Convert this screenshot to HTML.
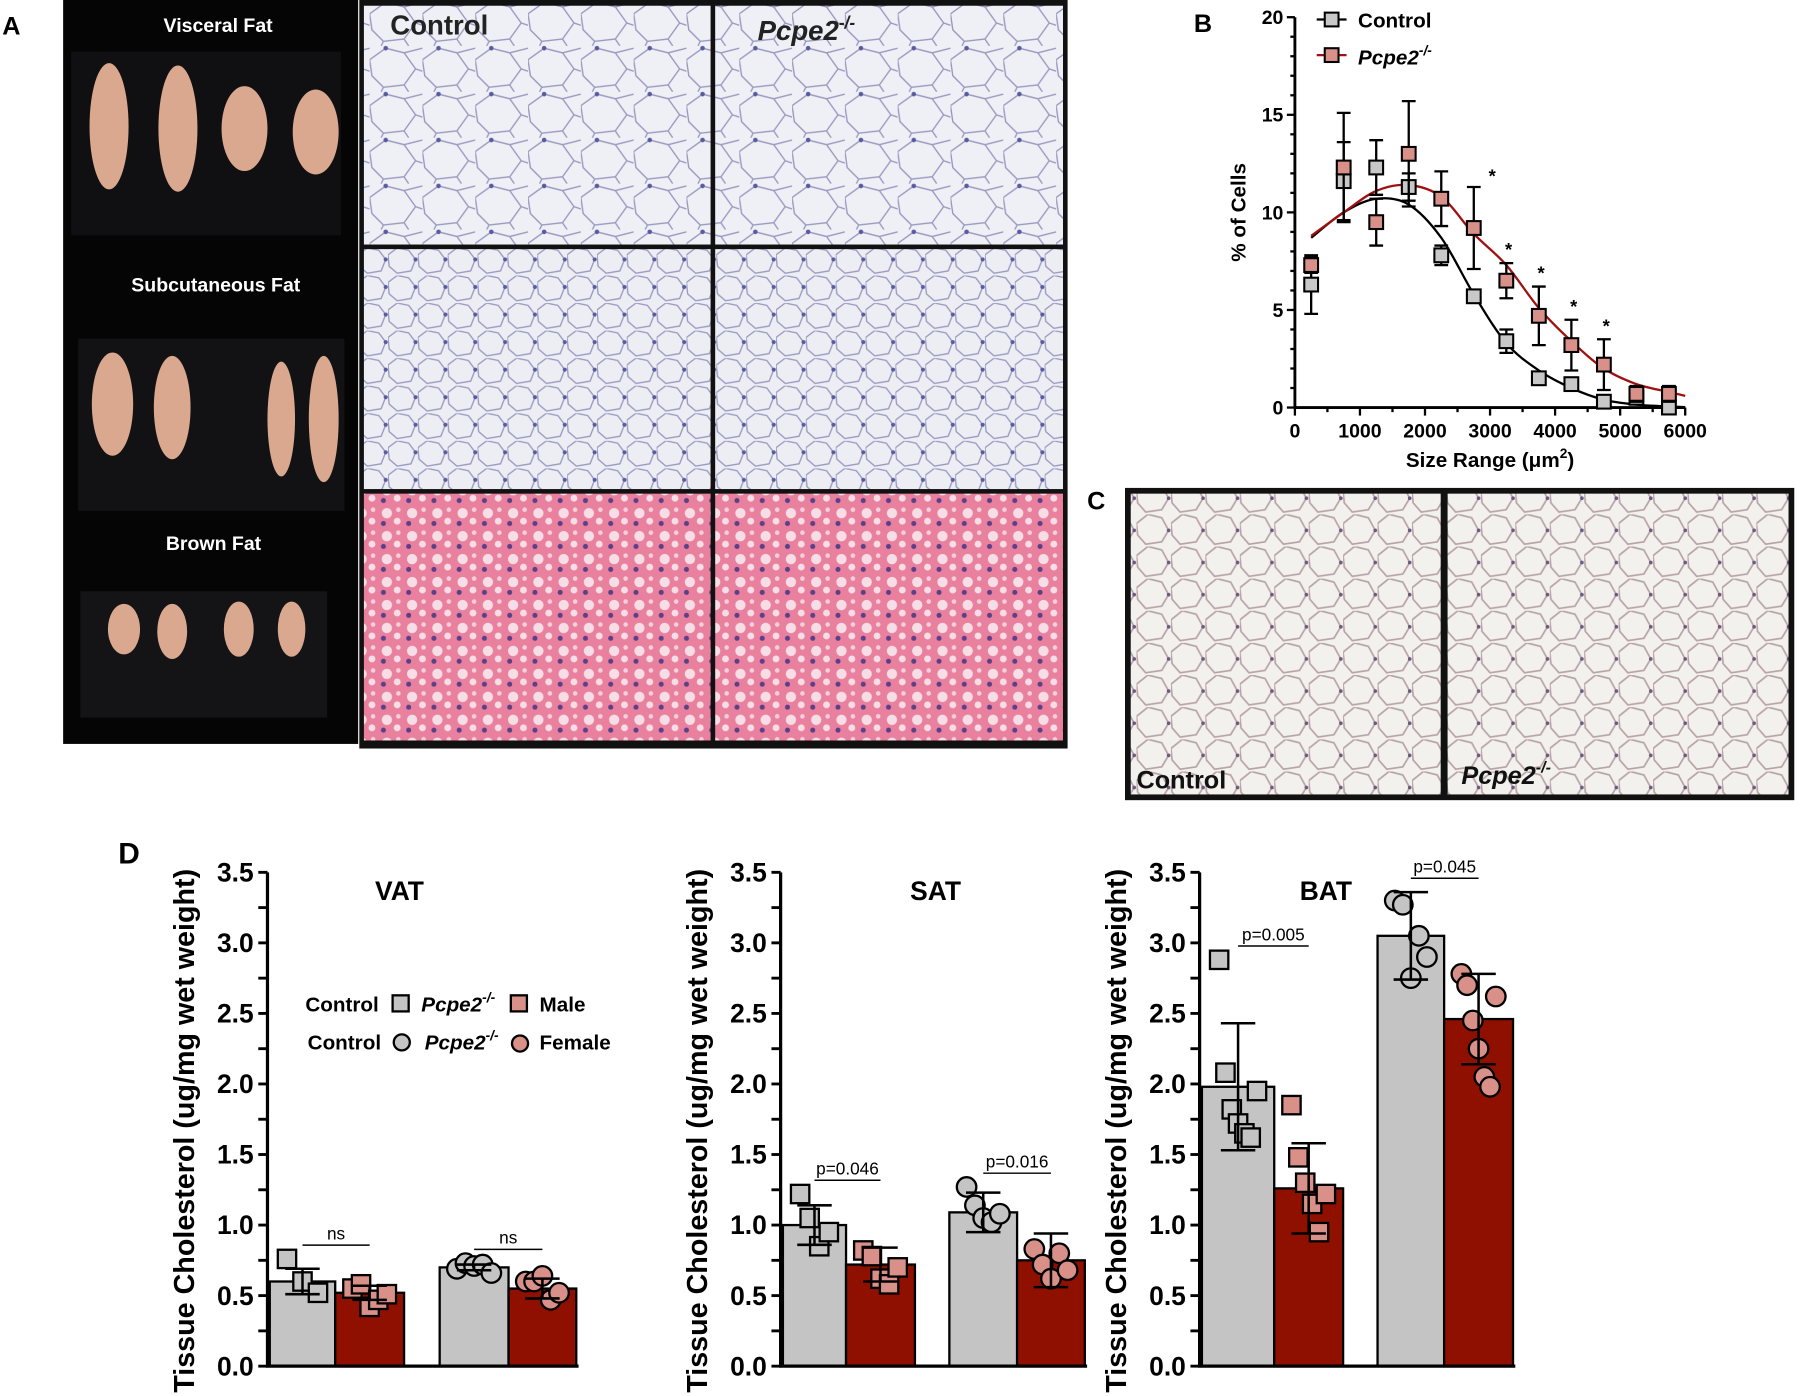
<!DOCTYPE html>
<html><head><meta charset="utf-8"><style>
html,body{margin:0;padding:0;background:#fff}
svg{display:block;font-family:"Liberation Sans",Arial,sans-serif}
</style></head><body>
<svg id="fig" width="1800" height="1396" viewBox="0 0 1568 1216" preserveAspectRatio="none" xmlns="http://www.w3.org/2000/svg">
<defs>
<pattern id="cellsA" width="46" height="40" patternUnits="userSpaceOnUse">
<rect width="46" height="40" fill="#eef0f5"/>
<path d="M0 12 L14 2 L30 6 L40 20 L30 34 L12 36 L2 26 Z M30 6 L46 2 M40 20 L46 22 M12 36 L10 40 M30 34 L34 40" fill="none" stroke="#9a98c0" stroke-width="1.2"/>
<circle cx="14" cy="2" r="2" fill="#5a5aa0"/>
</pattern>
<pattern id="cellsS" width="26" height="24" patternUnits="userSpaceOnUse">
<rect width="26" height="24" fill="#eceef4"/>
<path d="M0 6 L8 0 L18 2 L24 10 L20 20 L8 22 L1 16 Z" fill="none" stroke="#9a9ac0" stroke-width="1.2"/>
<circle cx="24" cy="10" r="1.8" fill="#5a5aa0"/>
</pattern>
<pattern id="cellsB" width="22" height="20" patternUnits="userSpaceOnUse">
<rect width="22" height="20" fill="#e9809e"/>
<circle cx="7" cy="7" r="4.5" fill="#f6dde6"/>
<circle cx="16" cy="14" r="3" fill="#f6dde6"/>
<circle cx="17" cy="4" r="2" fill="#f3d0dc"/>
<circle cx="4" cy="16" r="2.2" fill="#5a3f8a"/>
</pattern>
<pattern id="cellsC" width="30" height="28" patternUnits="userSpaceOnUse">
<rect width="30" height="28" fill="#f2f1ee"/>
<path d="M0 8 L10 0 L22 3 L28 14 L22 24 L8 26 L1 18 Z" fill="none" stroke="#b8a4a4" stroke-width="1.5"/>
<circle cx="28" cy="14" r="1.6" fill="#6a5a80"/>
</pattern>
</defs>
<g id="panelA"></g>
<g id="panelB"></g>
<g id="panelC"></g>
<g id="panelD"></g>
</svg>
<script>
// ---- Panel B data ----
const bSizes=[250,750,1250,1750,2250,2750,3250,3750,4250,4750,5250,5750];
const bCtrl=[6.3,11.6,12.3,11.3,7.8,5.7,3.4,1.5,1.2,0.3,0.5,0.0];
const bCtrlErr=[1.5,2.0,1.4,0.7,0.5,0.2,0.6,0.2,0.2,0.2,0.3,0.1];
const bKO=[7.3,12.3,9.5,13.0,10.7,9.2,6.5,4.7,3.2,2.2,0.7,0.7];
const bKOErr=[0.4,2.8,1.2,2.7,1.4,2.1,0.9,1.5,1.3,1.3,0.4,0.4];
const bCtrlFitX=[250,750,1250,1750,2250,2750,3250,3750,4250,4750,5250,5750,6000];
const bCtrlFit=[8.7,10.0,10.7,10.4,8.7,5.8,3.3,1.9,1.0,0.4,0.15,0.05,0.02];
const bKOFit=[8.8,10.0,11.1,11.4,10.8,8.9,7.3,5.1,3.4,2.0,1.2,0.8,0.6];
const bSig=[false,false,false,false,false,true,true,true,true,true,false,false];
const bYTicks=[0,5,10,15,20];
const bXTicks=[0,1000,2000,3000,4000,5000,6000];
// ---- Panel D data ----
const dPanels=["VAT","SAT","BAT"];
const dGroups=["Male Control","Male Pcpe2-/-","Female Control","Female Pcpe2-/-"];
const dMeans=[[0.60,0.52,0.70,0.55],[1.00,0.72,1.09,0.75],[1.98,1.26,3.05,2.46]];
const dSD=[[0.09,0.05,0.02,0.07],[0.14,0.12,0.14,0.19],[0.45,0.32,0.31,0.32]];
const dPoints=[
 [[0.76,0.60,0.52],[0.55,0.58,0.42,0.47,0.51],[0.69,0.73,0.71,0.72,0.66],[0.60,0.60,0.64,0.47,0.52]],
 [[1.22,1.05,0.85,0.95],[0.82,0.78,0.62,0.58,0.70],[1.27,1.14,1.05,1.02,1.08],[0.83,0.72,0.62,0.80,0.68]],
 [[2.88,2.08,1.82,1.72,1.65,1.62,1.95],[1.85,1.48,1.30,1.15,0.95,1.22],[3.30,3.27,2.75,3.05,2.90],[2.78,2.70,2.45,2.25,2.05,1.98,2.62]]];
const dPvals=[["ns","ns"],["p=0.046","p=0.016"],["p=0.005","p=0.045"]];
const dYTicks=[0,0.5,1.0,1.5,2.0,2.5,3.0,3.5];

const NS="http://www.w3.org/2000/svg";
function mk(parent,tag,attrs,text){const e=document.createElementNS(NS,tag);for(const k in attrs)e.setAttribute(k,attrs[k]);if(text!==undefined)e.textContent=text;parent.appendChild(e);return e;}

// ---------- Panel A ----------
const A=document.getElementById('panelA');
let t=mk(A,'text',{x:2,y:30,'font-size':22,'font-weight':'bold'},'A');

let r=mk(A,'rect',{x:55,y:0,width:257,height:648,fill:'#050505'});

mk(A,'rect',{x:62,y:45,width:235,height:160,fill:'#101012'});
mk(A,'rect',{x:68,y:295,width:232,height:150,fill:'#121214'});
mk(A,'rect',{x:70,y:515,width:215,height:110,fill:'#141416'});
const labelsA=[["Visceral Fat",190,28],["Subcutaneous Fat",188,254],["Brown Fat",186,479]];
for(const [s,x,y] of labelsA){t=mk(A,'text',{x:x,y:y,'font-size':17,'font-weight':'bold',fill:'#fff','text-anchor':'middle'},s);
}
const blobs=[[95,110,17,55],[155,112,17,55],[213,112,20,37],[275,115,20,37],[98,352,18,45],[150,355,16,45],[245,365,12,50],[282,365,13,55],[108,548,14,22],[150,550,13,24],[208,548,13,24],[254,548,12,24]];
for(const [cx,cy,rx,ry] of blobs){const e=mk(A,'ellipse',{cx:cx,cy:cy,rx:rx,ry:ry,fill:'#d9a88e'});
}
mk(A,'rect',{x:313,y:0,width:617,height:652,fill:'#111'});
const tiles=[[317,5,302,208,'cellsA'],[623,5,303,208,'cellsA'],[317,217,302,209,'cellsS'],[623,217,303,209,'cellsS'],[317,430,302,215,'cellsB'],[623,430,303,215,'cellsB']];
for(const [x,y,w,h,p] of tiles){const e=mk(A,'rect',{x:x,y:y,width:w,height:h,fill:'url(#'+p+')'});
}
t=mk(A,'text',{x:340,y:30,'font-size':24,'font-weight':'bold',fill:'#222'},'Control');

t=mk(A,'text',{x:660,y:35,'font-size':24,'font-weight':'bold','font-style':'italic',fill:'#222'},'Pcpe2');
mk(t,'tspan',{dy:-10,'font-size':15},'-/-');


// ---------- Panel B ----------
const B=document.getElementById('panelB');
const bx=v=>1128+v*(340/6000), by=v=>355-v*17;
t=mk(B,'text',{x:1040,y:28,'font-size':22,'font-weight':'bold'},'B');

let ax=mk(B,'path',{d:`M${bx(0)} ${by(20)} V${by(0)} H${bx(6000)}`,stroke:'#000','stroke-width':2.5,fill:'none'});

for(let v=0;v<=20;v++){mk(B,'line',{x1:bx(0)-(v%5?4:7),x2:bx(0),y1:by(v),y2:by(v),stroke:'#000','stroke-width':2});}
for(const v of bYTicks){t=mk(B,'text',{x:bx(0)-10,y:by(v)+6,'font-size':17,'font-weight':'bold','text-anchor':'end'},String(v));
}
for(let v=0;v<=6000;v+=500){mk(B,'line',{x1:bx(v),x2:bx(v),y1:by(0),y2:by(0)+(v%1000?4:7),stroke:'#000','stroke-width':2});}
for(const v of bXTicks){t=mk(B,'text',{x:bx(v),y:by(0)+26,'font-size':17,'font-weight':'bold','text-anchor':'middle'},String(v));
}
t=mk(B,'text',{x:1298,y:407,'font-size':18,'font-weight':'bold','text-anchor':'middle'},'Size Range (\u03bcm');
mk(t,'tspan',{dy:-8,'font-size':12},'2');mk(t,'tspan',{dy:8},')');

t=mk(B,'text',{x:0,y:0,'font-size':18,'font-weight':'bold','text-anchor':'middle',transform:`translate(1085 185) rotate(-90)`},'% of Cells');

function smooth(xs,ys){const p=xs.map((x,i)=>[bx(x),by(ys[i])]);let d=`M${p[0][0]} ${p[0][1]}`;
for(let i=0;i<p.length-1;i++){const p0=p[Math.max(0,i-1)],p1=p[i],p2=p[i+1],p3=p[Math.min(p.length-1,i+2)];
d+=` C${p1[0]+(p2[0]-p0[0])/6} ${p1[1]+(p2[1]-p0[1])/6} ${p2[0]-(p3[0]-p1[0])/6} ${p2[1]-(p3[1]-p1[1])/6} ${p2[0]} ${p2[1]}`;}return d;}
let c=mk(B,'path',{d:smooth(bCtrlFitX,bCtrlFit),stroke:'#000','stroke-width':2,fill:'none'});

c=mk(B,'path',{d:smooth(bCtrlFitX,bKOFit),stroke:'#a01010','stroke-width':2,fill:'none'});

function bSeries(vals,errs,fill,name){bSizes.forEach((s,i)=>{const x=bx(s),y=by(vals[i]);
const e=mk(B,'path',{d:`M${x} ${by(vals[i]-errs[i])} V${by(vals[i]+errs[i])} M${x-6} ${by(vals[i]+errs[i])} h12 M${x-6} ${by(vals[i]-errs[i])} h12`,stroke:'#000','stroke-width':2});

const m=mk(B,'rect',{x:x-6,y:y-6,width:12,height:12,fill:fill,stroke:'#000','stroke-width':1.8});
});}
bSeries(bCtrl,bCtrlErr,'#c8c8c8','control');
bSeries(bKO,bKOErr,'#d89088','pcpe2');
bSizes.forEach((s,i)=>{if(bSig[i]){const a=mk(B,'text',{x:bx(s)+(i==5?16:2),y:by(bKO[i]+bKOErr[i])-(i==5?4:6),'font-size':16,'font-weight':'bold','text-anchor':'middle'},'*');
}});
// legend
mk(B,'line',{x1:1147,x2:1173,y1:17,y2:17,stroke:'#000','stroke-width':2});
let lm=mk(B,'rect',{x:1154,y:11,width:12,height:12,fill:'#c8c8c8',stroke:'#000','stroke-width':1.8});

t=mk(B,'text',{x:1183,y:24,'font-size':18,'font-weight':'bold'},'Control');

mk(B,'line',{x1:1147,x2:1173,y1:48,y2:48,stroke:'#a01010','stroke-width':2});
lm=mk(B,'rect',{x:1154,y:42,width:12,height:12,fill:'#d89088',stroke:'#000','stroke-width':1.8});

t=mk(B,'text',{x:1183,y:56,'font-size':18,'font-weight':'bold','font-style':'italic'},'Pcpe2');
mk(t,'tspan',{dy:-8,'font-size':12},'-/-');


// ---------- Panel C ----------
const C=document.getElementById('panelC');
t=mk(C,'text',{x:947,y:444,'font-size':22,'font-weight':'bold'},'C');

mk(C,'rect',{x:980,y:425,width:583,height:272,fill:'#111'});
let ci=mk(C,'rect',{x:985,y:430,width:270,height:262,fill:'url(#cellsC)'});

ci=mk(C,'rect',{x:1261,y:430,width:297,height:262,fill:'url(#cellsC)'});

t=mk(C,'text',{x:990,y:687,'font-size':22,'font-weight':'bold',fill:'#111'},'Control');

t=mk(C,'text',{x:1273,y:683,'font-size':22,'font-weight':'bold','font-style':'italic',fill:'#111'},'Pcpe2');
mk(t,'tspan',{dy:-10,'font-size':14},'-/-');


// ---------- Panel D ----------
const D=document.getElementById('panelD');
t=mk(D,'text',{x:103,y:752,'font-size':26,'font-weight':'bold'},'D');

const dy=v=>1190-v*122.9;
const dAxisX=[233,680,1045];
const dBarX=[[235,292,383,443],[682,737,827,886],[1047,1110,1200,1258]];
const dBarW=[[57,60,60,59],[55,60,59,59],[63,60,58,60]];
const dTitleX=[348,815,1155];
dPanels.forEach((name,p)=>{
 const g=mk(D,'g',{});
 const x0=dAxisX[p];
 t=mk(g,'text',{x:dTitleX[p],y:784,'font-size':23,'font-weight':'bold','text-anchor':'middle'},name);
 
 t=mk(g,'text',{x:0,y:0,'font-size':25,'font-weight':'bold','text-anchor':'middle',transform:`translate(${x0-64} 985) rotate(-90)`},'Tissue Cholesterol (ug/mg wet weight)');
 
 dMeans[p].forEach((m,i)=>{const b=mk(g,'rect',{x:dBarX[p][i],y:dy(m),width:dBarW[p][i],height:dy(0)-dy(m),fill:i%2?'#901000':'#c4c4c4',stroke:'#000','stroke-width':2});
  });
 dPoints[p].forEach((pts,i)=>{const cx=dBarX[p][i]+dBarW[p][i]/2;const n=pts.length;
  pts.forEach((v,k)=>{const off=(k-(n-1)/2)*(dBarW[p][i]-30)/Math.max(n-1,1);
   const fill=i%2?'#d89088':'#c4c4c4';let e;
   if(i<2)e=mk(g,'rect',{x:cx+off-8,y:dy(v)-8,width:16,height:16,fill:fill,stroke:'#000','stroke-width':2});
   else e=mk(g,'circle',{cx:cx+off,cy:dy(v),r:8.5,fill:fill,stroke:'#000','stroke-width':2});
   });});
 dMeans[p].forEach((m,i)=>{const cx=dBarX[p][i]+dBarW[p][i]/2,s=dSD[p][i];
  const e=mk(g,'path',{d:`M${cx} ${dy(m-s)} V${dy(m+s)} M${cx-15} ${dy(m+s)} h30 M${cx-15} ${dy(m-s)} h30`,stroke:'#000','stroke-width':2.2,fill:'none'});
  });
 [0,1].forEach(j=>{const xa=dBarX[p][2*j]+dBarW[p][2*j]/2,xb=dBarX[p][2*j+1]+dBarW[p][2*j+1]/2;
  const top=Math.max(...dPoints[p][2*j],...dPoints[p][2*j+1],dMeans[p][2*j]+dSD[p][2*j]);
  const yl=dy(top)-12;
  mk(g,'line',{x1:xa,x2:xb,y1:yl,y2:yl,stroke:'#000','stroke-width':1.3});
  const a=mk(g,'text',{x:(xa+xb)/2,y:yl-5,'font-size':15,'text-anchor':'middle'},dPvals[p][j]);
  });
 const a=mk(g,'path',{d:`M${x0} ${dy(3.5)} V${dy(0)} H${dBarX[p][3]+dBarW[p][3]+2}`,stroke:'#000','stroke-width':2.8,fill:'none'});
 
 for(let v=0;v<=3.5001;v+=0.25)mk(g,'line',{x1:x0-8,x2:x0,y1:dy(v),y2:dy(v),stroke:'#000','stroke-width':2.5});
 dYTicks.forEach(v=>{const tt=mk(g,'text',{x:x0-12,y:dy(v)+8,'font-size':23,'font-weight':'bold','text-anchor':'end'},v.toFixed(1));
  });
});
const L=mk(D,'g',{});
t=mk(L,'text',{x:266,y:881,'font-size':18,'font-weight':'bold'},'Control');
mk(L,'rect',{x:342,y:867,width:14,height:14,fill:'#c4c4c4',stroke:'#000','stroke-width':2});
t=mk(L,'text',{x:367,y:881,'font-size':18,'font-weight':'bold','font-style':'italic'},'Pcpe2');mk(t,'tspan',{dy:-8,'font-size':12},'-/-');

mk(L,'rect',{x:445,y:867,width:14,height:14,fill:'#d89088',stroke:'#000','stroke-width':2});
t=mk(L,'text',{x:470,y:881,'font-size':18,'font-weight':'bold'},'Male');
t=mk(L,'text',{x:268,y:914,'font-size':18,'font-weight':'bold'},'Control');
mk(L,'circle',{cx:350,cy:908,r:7,fill:'#c4c4c4',stroke:'#000','stroke-width':2});
t=mk(L,'text',{x:370,y:914,'font-size':18,'font-weight':'bold','font-style':'italic'},'Pcpe2');mk(t,'tspan',{dy:-8,'font-size':12},'-/-');

mk(L,'circle',{cx:453,cy:909,r:7,fill:'#d89088',stroke:'#000','stroke-width':2});
t=mk(L,'text',{x:470,y:914,'font-size':18,'font-weight':'bold'},'Female');
</script>
</body></html>
